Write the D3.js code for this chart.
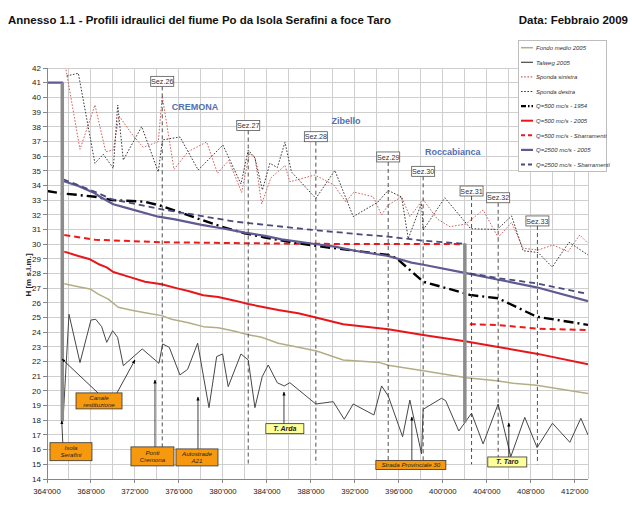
<!DOCTYPE html>
<html><head><meta charset="utf-8">
<script src="https://cdn.jsdelivr.net/npm/d3@7"></script>
<style>
body{margin:0;background:#fff}
text{font-family:"Liberation Sans",Arial,sans-serif}
</style>
</head><body>
<svg id="c" width="632" height="522"></svg>
<script>
// ---------------- DATA ----------------
const xTicks = [364000,368000,372000,376000,380000,384000,388000,392000,396000,400000,404000,408000,412000];
const yTicks = d3.range(14, 43, 1);

const fondoMedio = [[365570,27.3],[366850,27.1],[367910,26.95],[368660,26.6],[369570,26.25],[370480,25.7],[371700,25.5],[372910,25.33],[374430,25.13],[375340,24.88],[376850,24.65],[378210,24.38],[379570,24.3],[381090,24.06],[382300,23.83],[383520,23.66],[385030,23.25],[386850,22.97],[388520,22.72],[390940,22.11],[394270,21.93],[395030,21.75],[398210,21.38],[402150,20.9],[404880,20.7],[406390,20.52],[408520,20.39],[413200,19.82]];

const talweg = [[365450,17.9],[366000,25.22],[367000,21.93],[368000,24.83],[368430,24.88],[368970,24.38],[369430,23.31],[369970,24.1],[370420,23.65],[370940,21.72],[372660,22.86],[374180,21.88],[374520,23.2],[375120,22.97],[376090,21.09],[376790,21.47],[377700,23.25],[378730,18.86],[379430,22.34],[379970,22.52],[380480,20.29],[381640,22.52],[382300,22.11],[382910,18.86],[383570,20.97],[384120,21.77],[384940,20.56],[385570,20.34],[386090,20.56],[388450,19.11],[390030,19.27],[391030,18.07],[391850,19.11],[393730,18.36],[394430,20.34],[395030,19.66],[396340,16.88],[397000,19.38],[398060,15.71],[398210,18.75],[399880,19.5],[400250,19.34],[401450,17.27],[402610,18.48],[403660,16.39],[405030,19.11],[406180,15.52],[407450,18.2],[408570,16.14],[409970,17.8],[411550,16.5],[412550,18.14],[413200,17.0]];

const spondaSinistra = [[365680,42.1],[367000,36.46],[368360,39.48],[369340,36.3],[370030,36.41],[370550,38.73],[371850,37.37],[372750,36.6],[374120,36.98],[374480,40.09],[375550,35.09],[376820,36.3],[378520,36.96],[379500,34.83],[380530,35.7],[381700,33.52],[382410,36.19],[382910,35.94],[383520,32.74],[384360,34.51],[385640,35.36],[386090,34.25],[388360,34.71],[390090,34.03],[391180,32.87],[391910,33.55],[393660,33.23],[394430,31.99],[395030,32.67],[396250,33.23],[397000,31.87],[398210,33.04],[399500,31.71],[400640,31.19],[402090,31.37],[403660,32.33],[405030,30.45],[406250,31.48],[407300,29.72],[408660,29.6],[410030,29.94],[411390,29.49],[412450,30.62],[413200,30.06]];

const spondaDestra = [[365790,41.46],[366850,41.64],[368360,35.51],[369120,36.12],[370030,35.17],[370430,39.48],[370940,35.73],[372610,38.01],[374120,34.92],[374500,37.1],[376090,37.3],[377750,35.05],[380000,36.75],[381640,34.1],[382300,36.41],[382910,35.87],[383590,33.69],[384270,35.51],[384950,35.22],[385640,36.94],[386230,34.92],[388450,33.12],[390180,35.02],[391850,31.88],[394050,32.84],[395030,33.66],[396250,33.21],[396850,30.37],[398060,32.78],[398210,30.96],[400180,33.16],[402530,31.05],[404950,31.0],[406250,31.92],[407300,29.55],[408660,29.43],[409950,28.44],[411470,30.13],[413200,29.26]];

const q500_1954 = [[364000,33.62],[365340,33.46],[366850,33.35],[368360,33.23],[369880,33.0],[372910,32.89],[374430,32.6],[375940,32.21],[378060,31.65],[379880,31.19],[381990,30.74],[383820,30.45],[385940,30.17],[388970,29.83],[392000,29.55],[395030,29.26],[395790,29.04],[398210,27.44],[402000,26.65],[402450,26.54],[405030,26.31],[408520,25.06],[413200,24.5]];

const q500_2005 = [[365570,29.49],[366850,29.19],[367910,28.97],[368660,28.65],[369430,28.42],[370030,28.1],[371700,27.72],[372910,27.44],[374430,27.27],[375940,26.97],[376850,26.81],[378210,26.52],[379570,26.4],[381090,26.15],[382300,25.92],[383520,25.74],[385030,25.51],[386850,25.29],[388360,25.02],[390940,24.54],[395030,24.2],[398210,23.81],[402150,23.36],[404880,23.01],[408520,22.54],[413200,21.82]];

const q500_sbarr = [[365570,30.62],[368360,30.3],[374430,30.13],[382300,30.06],[388360,30.02],[402000,30.0],null,[402450,24.55],[405030,24.49],[408660,24.24],[413200,24.15]];

const q2500_2005 = [[364000,41.0],[365400,41.0],[365400,34.32],[366850,33.96],[368360,33.46],[368820,33.23],[370030,32.72],[371390,32.44],[374120,31.87],[375640,31.69],[378060,31.31],[379880,31.08],[381990,30.78],[383820,30.56],[385340,30.33],[388360,30.01],[390180,29.83],[392000,29.55],[395030,29.19],[397150,28.74],[398360,28.58],[402000,28.04],[405180,27.56],[408520,27.06],[413200,26.12]];

const q2500_sbarr = [[365480,34.42],[368360,33.57],[369880,33.06],[374430,32.37],[381150,31.53],[388400,30.95],[392450,30.67],[395030,30.51],[398210,30.24],[402000,30.02],null,[402450,28.01],[405180,27.67],[408520,27.33],[413200,26.6]];

const dams = [[365390,41.0,17.97],[402000,30.05,17.85]];

const sectionNames = ["Sez.26","Sez.27","Sez.28","Sez.29","Sez.30","Sez.31","Sez.32","Sez.33"];
const sectionX =     [374480,382300,388450,395030,398210,402610,405030,408600];
const sectionLabelY =[41.09,38.08,37.32,35.94,34.96,33.62,33.16,31.58];
const sectionBottom = 15.0;

const placeNames = ["CREMONA","Zibello","Roccabianca"];
const placeX = [377460,391190,400910];
const placeY = [39.36,38.42,36.27];

// annotations: label lines, box centre (x,y), arrows [fromX,fromY,toX,toY]
const annotations = [
  {lines:["Isola","Serafini"], cx:366180, cy:15.86, fill:"#f7990f", arrows:[[365480,15.75,365340,17.97]]},
  {lines:["Canale","restituzione"], cx:368730, cy:19.32, fill:"#f7990f", arrows:[[368640,19.86,365360,22.18],[370360,19.86,372000,22.11]]},
  {lines:["Ponti","Cremona"], cx:373590, cy:15.54, fill:"#f7990f", arrows:[[373820,16.18,373820,20.75]]},
  {lines:["Autostrade","A21"], cx:377640, cy:15.47, fill:"#f7990f", arrows:[[377730,16.04,377730,19.59]]},
  {lines:["T. Arda"], cx:385630, cy:17.43, fill:"#ffff99", arrows:[[385550,17.75,385550,19.93]]},
  {lines:["Strada Provinciale 30"], cx:397090, cy:14.96, fill:"#f7990f", arrows:[[397180,15.25,397180,18.23]]},
  {lines:["T. Taro"], cx:405860, cy:15.16, fill:"#ffff99", arrows:[[406000,15.5,406000,17.82]]}
];
const annotationSizes = [[42,18],[46,16],[43,19],[42,17],[38,10],[70,9],[39,10]];

const legendLabels = ["Fondo medio 2005","Talweg 2005","Sponda sinistra","Sponda destra","Q=500 mc/s - 1954","Q=500 mc/s - 2005","Q=500 mc/s - Sbarramenti","Q=2500 mc/s - 2005","Q=2500 mc/s - Sbarramenti"];

// ---------------- STYLES ----------------
const styles = {
  fondo:{stroke:"#b3ad86",w:1.5,dash:null},
  talweg:{stroke:"#474747",w:1,dash:null},
  sin:{stroke:"#d0605c",w:1,dash:"1.6,1.6"},
  des:{stroke:"#3a3a3a",w:1,dash:"1.6,1.6"},
  q1954:{stroke:"#000",w:2.4,dash:"10,4,2,4"},
  q500:{stroke:"#e8161b",w:2,dash:null},
  q500s:{stroke:"#f01818",w:2,dash:"6,4"},
  q2500:{stroke:"#605a92",w:2.2,dash:null},
  q2500s:{stroke:"#4b4a7c",w:1.8,dash:"6,4"}
};
const legendStyles = ["fondo","talweg","sin","des","q1954","q500","q500s","q2500","q2500s"];

// ---------------- CHART ----------------
const svg = d3.select("#c");
const x = d3.scaleLinear().domain([364000,413200]).range([47,588]);
const y = d3.scaleLinear().domain([14,42]).range([479,68]);
const gridColor = "#cfcfcf";

// gridlines
const grid = svg.append("g");
grid.selectAll("line.h").data(yTicks).join("line")
  .attr("x1",x.range()[0]).attr("x2",x.range()[1])
  .attr("y1",d=>y(d)).attr("y2",d=>y(d))
  .attr("stroke",gridColor).attr("stroke-width",1).attr("shape-rendering","crispEdges");
const vGrid = d3.range(364000, 413201, 2000).concat([413200]);
grid.selectAll("line.v").data(vGrid).join("line")
  .attr("x1",d=>x(d)).attr("x2",d=>x(d))
  .attr("y1",y(42)).attr("y2",y(14))
  .attr("stroke",gridColor).attr("stroke-width",1).attr("shape-rendering","crispEdges");

// clip
svg.append("clipPath").attr("id","plot").append("rect")
  .attr("x",47).attr("y",68).attr("width",541).attr("height",411);

// section dashed lines
const secG = svg.append("g");
sectionX.forEach((sx,i)=>{
  secG.append("line").attr("x1",x(sx)).attr("x2",x(sx))
    .attr("y1",y(sectionLabelY[i])+5).attr("y2",y(sectionBottom))
    .attr("stroke","#3c3c3c").attr("stroke-width",0.9).attr("stroke-dasharray","4,3");
});

// series
const line = d3.line().defined(d=>d!==null).x(d=>x(d[0])).y(d=>y(d[1]));
const plot = svg.append("g").attr("clip-path","url(#plot)");
function draw(data, st){
  const s = styles[st];
  plot.append("path").attr("d",line(data)).attr("fill","none")
    .attr("stroke",s.stroke).attr("stroke-width",s.w)
    .attr("stroke-dasharray",s.dash).attr("stroke-linejoin","round");
}
draw(fondoMedio,"fondo");
draw(talweg,"talweg");
draw(spondaSinistra,"sin");
draw(spondaDestra,"des");
draw(q500_2005,"q500");
draw(q500_sbarr,"q500s");
draw(q500_1954,"q1954");
draw(q2500_2005,"q2500");
draw(q2500_sbarr,"q2500s");

// dams
dams.forEach(d=>{
  plot.append("line").attr("x1",x(d[0])).attr("x2",x(d[0]))
    .attr("y1",y(d[1])).attr("y2",y(d[2]))
    .attr("stroke","#8c8c8c").attr("stroke-width",3.5);
});

// section labels
sectionNames.forEach((n,i)=>{
  const cx = x(sectionX[i]), cy = y(sectionLabelY[i]);
  secG.append("rect").attr("x",cx-11.5).attr("y",cy-5).attr("width",23).attr("height",10)
    .attr("fill","#fff").attr("stroke","#555").attr("stroke-width",0.8);
  secG.append("text").attr("x",cx).attr("y",cy+2.6).attr("text-anchor","middle")
    .attr("font-size",7.2).attr("fill","#333").text(n);
});
svg.node().appendChild(secG.node());

// place names
placeNames.forEach((n,i)=>{
  svg.append("text").attr("x",x(placeX[i])).attr("y",y(placeY[i])+3.2)
    .attr("text-anchor","middle").attr("font-size",9).attr("font-weight","bold")
    .attr("fill","#4f70b5").text(n);
});

// annotations
const defs = svg.append("defs");
defs.append("marker").attr("id","ah").attr("viewBox","0 0 10 10").attr("refX",9).attr("refY",5)
  .attr("markerWidth",5).attr("markerHeight",5).attr("orient","auto")
  .append("path").attr("d","M0,1 L10,5 L0,9 Z").attr("fill","#000");
const annG = svg.append("g");
annotations.forEach((a,i)=>{
  a.arrows.forEach(ar=>{
    annG.append("line").attr("x1",x(ar[0])).attr("y1",y(ar[1]))
      .attr("x2",x(ar[2])).attr("y2",y(ar[3]))
      .attr("stroke","#111").attr("stroke-width",0.8).attr("marker-end","url(#ah)");
  });
});
annotations.forEach((a,i)=>{
  const [w,h] = annotationSizes[i];
  const cx = x(a.cx), cy = y(a.cy);
  annG.append("rect").attr("x",cx-w/2).attr("y",cy-h/2).attr("width",w).attr("height",h)
    .attr("fill",a.fill).attr("stroke","#333").attr("stroke-width",0.8);
  const n = a.lines.length;
  a.lines.forEach((t,j)=>{
    annG.append("text").attr("x",cx).attr("y",cy + (j-(n-1)/2)*7 + 2.2)
      .attr("text-anchor","middle").attr("font-size",a.fill==="#ffff99"?7:6.2)
      .attr("font-style","italic").attr("font-weight",a.fill==="#ffff99"?"bold":"normal")
      .attr("fill","#222").text(t);
  });
});

// axes
const axisColor = "#868686";
svg.append("line").attr("x1",47).attr("x2",47).attr("y1",68).attr("y2",479)
  .attr("stroke",axisColor).attr("shape-rendering","crispEdges");
svg.append("line").attr("x1",47).attr("x2",588).attr("y1",479).attr("y2",479)
  .attr("stroke",axisColor).attr("shape-rendering","crispEdges");
yTicks.forEach(t=>{
  svg.append("line").attr("x1",43).attr("x2",47).attr("y1",y(t)).attr("y2",y(t))
    .attr("stroke",axisColor).attr("shape-rendering","crispEdges");
  svg.append("text").attr("x",41).attr("y",y(t)+2.8).attr("text-anchor","end")
    .attr("font-size",8).attr("fill","#222").text(t);
});
const fmt = d => d3.format(",")(d).replace(",","'");
xTicks.forEach(t=>{
  svg.append("line").attr("x1",x(t)).attr("x2",x(t)).attr("y1",479).attr("y2",483)
    .attr("stroke",axisColor).attr("shape-rendering","crispEdges");
  svg.append("text").attr("x",x(t)).attr("y",494).attr("text-anchor","middle")
    .attr("font-size",7.8).attr("fill","#222").text(fmt(t));
});
svg.append("text").attr("transform","translate(31,275) rotate(-90)")
  .attr("text-anchor","middle").attr("font-size",8).attr("font-weight","bold")
  .attr("fill","#222").text("H [m s.l.m.]");

// legend
const lg = svg.append("g");
lg.append("rect").attr("x",518.5).attr("y",40.5).attr("width",88).attr("height",131)
  .attr("fill","#fff").attr("stroke","#bdbdbd").attr("stroke-width",1);
legendLabels.forEach((l,i)=>{
  const yy = 47.7 + i*14.6;
  const s = styles[legendStyles[i]];
  lg.append("line").attr("x1",521).attr("x2",533).attr("y1",yy).attr("y2",yy)
    .attr("stroke",s.stroke).attr("stroke-width",Math.max(s.w,1.2))
    .attr("stroke-dasharray", legendStyles[i]==="q1954" ? "5,2,1.5,2" : (s.dash && s.dash.startsWith("6") ? "4,3" : s.dash));
  lg.append("text").attr("x",536).attr("y",yy+2.2).attr("font-size",6)
    .attr("font-style","italic").attr("fill","#333").text(l);
});

// titles
svg.append("text").attr("x",8).attr("y",24).attr("font-size",11.5).attr("font-weight","bold")
  .attr("fill","#111").text("Annesso 1.1 - Profili idraulici del fiume Po da Isola Serafini a foce Taro")
  .attr("textLength",383).attr("lengthAdjust","spacingAndGlyphs");
svg.append("text").attr("x",628).attr("y",24).attr("font-size",11.5).attr("font-weight","bold")
  .attr("text-anchor","end").attr("fill","#111").text("Data: Febbraio 2009");
</script>
</body></html>
